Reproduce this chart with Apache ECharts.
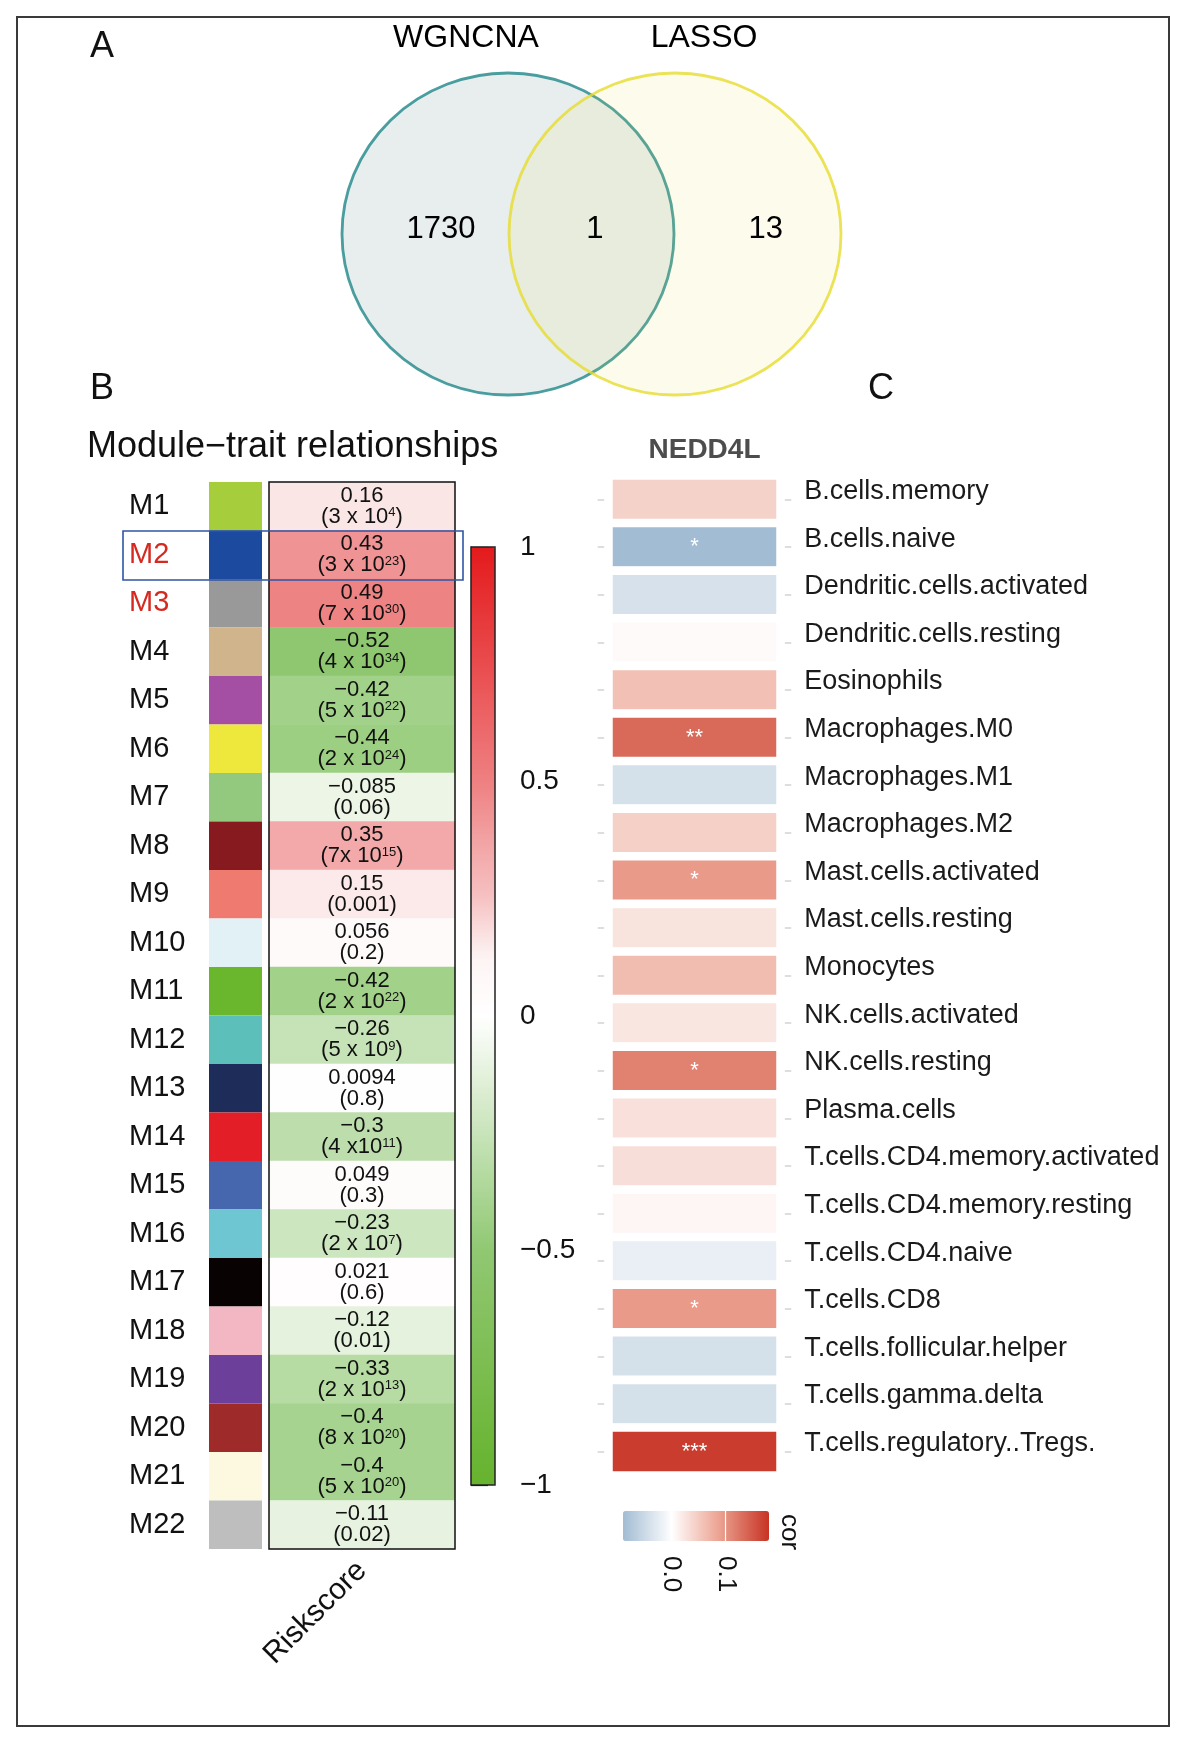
<!DOCTYPE html>
<html>
<head>
<meta charset="utf-8">
<script src="https://cdn.jsdelivr.net/npm/echarts/dist/echarts.min.js"></script>
<style>
html,body{margin:0;padding:0;background:#fff;}
#chart{width:1188px;height:1743px;}
</style>
</head>
<body>
<div id="chart"></div>
<script>
// ---------- data ----------
const vennSets = ['WGNCNA', 'LASSO'];
const vennCounts = [1730, 1, 13];

const modules = ['M1','M2','M3','M4','M5','M6','M7','M8','M9','M10','M11','M12','M13','M14','M15','M16','M17','M18','M19','M20','M21','M22'];
const moduleColors = ['#a6cd3c','#1b4a9e','#999999','#d0b48c','#a44fa3','#efe83c','#93c97f','#861a1e','#ee7a70','#e2f1f6','#6ab72e','#5dbfb9','#1e2c5a','#e41e26','#4666ae','#6ec6d2','#080202','#f3b6c3','#6c409a','#9f2a2a','#fcf9e0','#bebebe'];
const highlightedModules = ['M2', 'M3'];
const traitNames = ['Riskscore'];
const riskCor = [0.16, 0.43, 0.49, -0.52, -0.42, -0.44, -0.085, 0.35, 0.15, 0.056, -0.42, -0.26, 0.0094, -0.3, 0.049, -0.23, 0.021, -0.12, -0.33, -0.4, -0.4, -0.11];
const riskP = ['3 x 10^4','3 x 10^23','7 x 10^30','4 x 10^34','5 x 10^22','2 x 10^24','0.06','7x 10^15','0.001','0.2','2 x 10^22','5 x 10^9','0.8','4 x10^11','0.3','2 x 10^7','0.6','0.01','2 x 10^13','8 x 10^20','5 x 10^20','0.02'];

const geneNames = ['NEDD4L'];
const cellTypes = ['B.cells.memory','B.cells.naive','Dendritic.cells.activated','Dendritic.cells.resting','Eosinophils','Macrophages.M0','Macrophages.M1','Macrophages.M2','Mast.cells.activated','Mast.cells.resting','Monocytes','NK.cells.activated','NK.cells.resting','Plasma.cells','T.cells.CD4.memory.activated','T.cells.CD4.memory.resting','T.cells.CD4.naive','T.cells.CD8','T.cells.follicular.helper','T.cells.gamma.delta','T.cells.regulatory..Tregs.'];
const geneCor = [0.043, -0.09, -0.04, 0.005, 0.06, 0.135, -0.042, 0.045, 0.095, 0.027, 0.063, 0.024, 0.115, 0.029, 0.031, 0.009, -0.021, 0.095, -0.042, -0.042, 0.172];
const geneStars = ['', '*', '', '', '', '**', '', '', '*', '', '', '', '*', '', '', '', '', '*', '', '', '***'];
const corLegendTicks = [0, 0.1];

// ---------- layout constants ----------
const FONT = 'Liberation Sans, Arial, Helvetica, sans-serif';
const B = { colLeft: 209, colW: 53, heatLeft: 269, heatW: 186, top: 482, h: 1067 };
const CB = { left: 471, top: 547, w: 24, h: 938 };
const C = { left: 608.7, w: 171.6, top: 475.7, h: 999.6, gap: 8.6 };
const CL = { left: 623, top: 1511, w: 146, h: 30 };
const V = { cx: 591.5, cy: 234, ux: 166, uy: 161 };

const minus = v => (v < 0 ? '\u2212' : '') + Math.abs(v);

function pLabel(s) {
  if (s.indexOf('^') >= 0) {
    const parts = s.split('^');
    return '{p|(' + parts[0] + '}{s|' + parts[1] + '}{p|)}';
  }
  return '{p|(' + s + ')}';
}

const chart = echarts.init(document.getElementById('chart'), null, { renderer: 'canvas' });

const vennLabel = { show: true, position: 'inside', formatter: '{b}', fontSize: 31, color: '#000', textBorderWidth: 0, opacity: 1 };

const option = {
  animation: false,
  backgroundColor: '#ffffff',
  textStyle: { fontFamily: FONT },
  grid: [
    { left: V.cx - 2 * V.ux, width: 4 * V.ux, top: V.cy - 1.3 * V.uy, height: 2.6 * V.uy },
    { left: B.colLeft, width: B.colW, top: B.top, height: B.h },
    { left: B.heatLeft, width: B.heatW, top: B.top, height: B.h },
    { left: CB.left, width: CB.w, top: CB.top, height: CB.h },
    { left: C.left, width: C.w, top: C.top, height: C.h },
    { left: CL.left, width: CL.w, top: CL.top, height: CL.h }
  ],
  xAxis: [
    { gridIndex: 0, type: 'value', min: -2, max: 2, show: false },
    { gridIndex: 1, type: 'value', min: 0, max: 1, show: false },
    { gridIndex: 2, type: 'category', data: traitNames, position: 'bottom',
      axisLine: { show: false }, axisTick: { show: false },
      axisLabel: { rotate: 45, fontSize: 30, color: '#111', margin: 17 } },
    { gridIndex: 3, type: 'value', min: 0, max: 1, show: false },
    { gridIndex: 4, type: 'category', data: geneNames, position: 'top',
      axisLine: { show: false }, axisTick: { show: false },
      axisLabel: { fontSize: 28, fontWeight: 'bold', color: '#4d4d4d', margin: 11, padding: [0, 0, 0, 20] } },
    { gridIndex: 5, type: 'value', min: -0.09, max: 0.18, z: 10,
      axisLine: { show: false }, splitLine: { show: false },
      axisTick: { show: true, inside: true, length: CL.h, customValues: corLegendTicks, lineStyle: { color: '#ffffff', width: 1.2 } },
      axisLabel: { customValues: corLegendTicks, rotate: -90, margin: 15, fontSize: 26, color: '#111', formatter: v => v.toFixed(1) } }
  ],
  yAxis: [
    { gridIndex: 0, type: 'value', min: -1.3, max: 1.3, show: false },
    { gridIndex: 1, type: 'category', data: modules, inverse: true,
      axisLine: { show: false }, axisTick: { show: false },
      axisLabel: { align: 'left', margin: B.colLeft - 129, fontSize: 29,
        formatter: v => highlightedModules.indexOf(v) >= 0 ? '{r|' + v + '}' : '{k|' + v + '}',
        rich: { r: { color: '#d42a22', fontSize: 29 }, k: { color: '#111', fontSize: 29 } } } },
    { gridIndex: 2, type: 'category', data: modules, inverse: true, show: false },
    { gridIndex: 3, type: 'value', min: -1, max: 1, interval: 0.5, position: 'right',
      axisLine: { show: true, lineStyle: { color: '#111', width: 1.2 } },
      axisTick: { show: true, length: 17, lineStyle: { color: '#111', width: 1.2 } },
      splitLine: { show: false },
      axisLabel: { margin: 25, fontSize: 28, color: '#111', formatter: v => minus(v) } },
    { gridIndex: 4, type: 'category', data: cellTypes, inverse: true, position: 'right',
      axisLine: { show: false },
      axisTick: { show: true, alignWithLabel: true, length: 11, lineStyle: { color: '#d4d4d4', width: 1.5 } },
      axisLabel: { margin: 24, fontSize: 27, color: '#1a1a1a', verticalAlign: 'bottom', lineHeight: 16 } },
    { gridIndex: 4, type: 'category', data: cellTypes, inverse: true, position: 'left',
      axisLine: { show: false },
      axisTick: { show: true, alignWithLabel: true, length: 11, lineStyle: { color: '#d4d4d4', width: 1.5 } },
      axisLabel: { show: false } },
    { gridIndex: 5, type: 'value', min: 0, max: 1, show: false }
  ],
  visualMap: [
    { type: 'continuous', seriesIndex: 4, min: -1, max: 1, orient: 'vertical',
      left: CB.left, top: CB.top, itemWidth: CB.w, itemHeight: CB.h, padding: 0,
      calculable: false, hoverLink: false, text: null,
      inRange: { color: ['#66b32e', '#70b83e', '#7cbd50', '#86c261', '#90c872', '#acd696', '#c8e4ba', '#e4f1dc', '#ffffff', '#fdf4f4', '#f6c2c3', '#f2a2a3', '#ee8081', '#ec6668', '#e94c4e', '#e63335', '#e41a1c'] } },
    { type: 'continuous', seriesIndex: 5, min: -0.09, max: 0.18, orient: 'horizontal',
      left: CL.left, top: CL.top, itemWidth: CL.h, itemHeight: CL.w, padding: 0,
      calculable: false, hoverLink: false, text: null,
      inRange: { color: ['#a2bcd3', '#ffffff', '#eba08f', '#c73324'] } }
  ],
  series: [
    // Venn circles
    { type: 'scatter', xAxisIndex: 0, yAxisIndex: 0, silent: true, z: 2,
      symbol: 'circle', symbolSize: [2 * V.ux, 2 * V.uy],
      data: vennSets.map((s, i) => ({
        name: s, value: [i === 0 ? -0.503 : 0.503, 0],
        itemStyle: i === 0
          ? { color: 'rgba(22,80,80,0.12)', borderColor: '#1f8788', borderWidth: 2.8 }
          : { color: 'rgba(238,222,63,0.12)', borderColor: '#e6dc2e', borderWidth: 2.8 }
      })) },
    // Venn counts
    { type: 'scatter', xAxisIndex: 0, yAxisIndex: 0, silent: true, z: 3,
      symbolSize: 1, itemStyle: { color: '#ffffff', opacity: 0 },
      label: vennLabel,
      data: vennCounts.map((c, i) => ({ name: String(c), value: [[-0.907, 0.02, 1.05][i], 0.03] })) },
    // Venn set names
    { type: 'scatter', xAxisIndex: 0, yAxisIndex: 0, silent: true, z: 3,
      symbolSize: 1, itemStyle: { color: '#ffffff', opacity: 0 },
      label: Object.assign({}, vennLabel, { fontSize: 32 }),
      data: vennSets.map((s, i) => ({ name: s, value: [[-0.756, 0.678][i], 1.218] })) },
    // module colour column
    { type: 'bar', xAxisIndex: 1, yAxisIndex: 1, silent: true, barCategoryGap: '0%',
      data: moduleColors.map(c => ({ value: 1, itemStyle: { color: c } })) },
    // module-trait heatmap
    { type: 'heatmap', xAxisIndex: 2, yAxisIndex: 2, silent: true,
      data: riskCor.map((v, i) => [0, i, v]),
      label: { show: true, color: '#111',
        formatter: p => '{p|' + minus(riskCor[p.data[1]]) + '}\n' + pLabel(riskP[p.data[1]]),
        rich: {
          p: { fontSize: 22, lineHeight: 21, color: '#111' },
          s: { fontSize: 13, lineHeight: 13, verticalAlign: 'top', color: '#111' }
        } } },
    // NEDD4L immune correlation heatmap
    { type: 'heatmap', xAxisIndex: 4, yAxisIndex: 4, silent: true,
      data: geneCor.map((v, i) => [0, i, v]),
      itemStyle: { borderColor: '#ffffff', borderWidth: C.gap },
      label: { show: true, color: '#ffffff', fontSize: 22, padding: [10, 0, 0, 0],
        formatter: p => geneStars[p.data[1]] } }
  ],
  graphic: [
    { type: 'rect', z: 100, silent: true, shape: { x: 17, y: 17, width: 1152, height: 1709 },
      style: { fill: 'none', stroke: '#3a3a3a', lineWidth: 2 } },
    { type: 'rect', z: 100, silent: true, shape: { x: B.heatLeft, y: B.top, width: B.heatW, height: B.h },
      style: { fill: 'none', stroke: '#111', lineWidth: 1.5 } },
    { type: 'rect', z: 100, silent: true, shape: { x: CB.left, y: CB.top, width: CB.w, height: CB.h },
      style: { fill: 'none', stroke: '#222', lineWidth: 1.5 } },
    { type: 'rect', z: 100, silent: true, shape: { x: 123, y: 531, width: 340, height: 49 },
      style: { fill: 'none', stroke: '#2f55a4', lineWidth: 1.6 } },
    { type: 'text', z: 100, x: 102, y: 47, style: { text: 'A', font: '36px ' + FONT, fill: '#111', textAlign: 'center', textVerticalAlign: 'middle' } },
    { type: 'text', z: 100, x: 102, y: 389, style: { text: 'B', font: '36px ' + FONT, fill: '#111', textAlign: 'center', textVerticalAlign: 'middle' } },
    { type: 'text', z: 100, x: 881, y: 389, style: { text: 'C', font: '36px ' + FONT, fill: '#111', textAlign: 'center', textVerticalAlign: 'middle' } },
    { type: 'text', z: 100, x: 87, y: 447, style: { text: 'Module\u2212trait relationships', font: '36px ' + FONT, fill: '#111', textAlign: 'left', textVerticalAlign: 'middle' } },
    { type: 'text', z: 100, x: 789, y: 1532, rotation: -Math.PI / 2, style: { text: 'cor', font: '26px ' + FONT, fill: '#111', textAlign: 'center', textVerticalAlign: 'middle' } }
  ]
};
chart.setOption(option);
</script>
</body>
</html>
